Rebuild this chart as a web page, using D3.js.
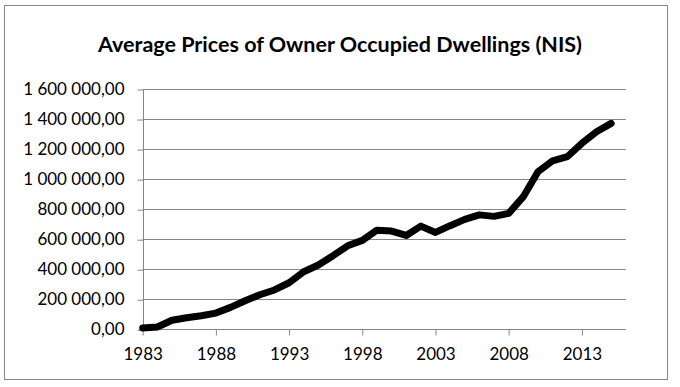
<!DOCTYPE html>
<html>
<head>
<meta charset="utf-8">
<script src="https://cdn.jsdelivr.net/npm/d3@7"></script>
<style>
  body { margin: 0; background: #fff; }
  text { font-family: Lato, "Open Sans", sans-serif; fill: #000; }
</style>
</head>
<body>
<div id="chart"></div>
<script>
// years on the category axis (2016 has no value, axis runs to it)
let years = d3.range(1983, 2017);
// average price per year, NIS
let prices = [
    8000, 15000, 60000, 77000, 90000, 108000, 146000, 190000, 230000, 262000,
    310000, 383000, 428000, 490000, 556000, 592000, 660000, 654000, 625000, 687000,
    645000, 690000, 732000, 762000, 752000, 772000, 883000, 1049000, 1122000, 1149000,
    1238000, 1315000, 1371000, null
];
let yTicks = [0, 200000, 400000, 600000, 800000, 1000000, 1200000, 1400000, 1600000];
let xTickYears = [1983, 1988, 1993, 1998, 2003, 2008, 2013];

let W = 680, H = 387;
let svg = d3.select('#chart').append('svg').attr('width', W).attr('height', H);

// outer frame
svg.append('rect').attr('x', 4.5).attr('y', 5.5).attr('width', 663).attr('height', 374)
    .attr('fill', '#fff').attr('stroke', '#868686').attr('stroke-width', 1);

svg.append('text').attr('x', 340).attr('y', 52).attr('text-anchor', 'middle')
    .attr('font-size', 21.5).attr('font-weight', 'bold')
    .text('Average Prices of Owner Occupied Dwellings (NIS)');

//绘图区
let pLeft = 142.7, pRight = 625.8, pTop = 89, pBottom = 329.3;

let x = d3.scaleLinear().domain([1983, 2016]).range([pLeft, pRight]);
let y = d3.scaleLinear().domain([0, 1600000]).range([pBottom, pTop]);

// number format like "1 600 000,00"
let fmt = function (v) {
    return d3.format(',.2f')(v).replace(/,/g, ' ').replace('.', ',');
};

// gridlines
svg.append('g').selectAll('line').data(yTicks.slice(1)).enter().append('line')
    .attr('x1', pLeft).attr('x2', pRight)
    .attr('y1', d => Math.round(y(d)) + 0.5).attr('y2', d => Math.round(y(d)) + 0.5)
    .attr('stroke', '#868686');

// y axis
let yAxis = d3.axisLeft(y).tickValues(yTicks).tickFormat(fmt).tickSize(6).tickPadding(13);
let gy = svg.append('g').attr('transform', 'translate(' + (Math.round(pLeft) + 0.5) + ',0)').call(yAxis);
gy.select('.domain').attr('stroke', '#868686').attr('d', 'M0,' + Math.round(pTop) + 'V' + Math.round(pBottom));
gy.selectAll('.tick line').attr('stroke', '#868686').attr('transform', 'translate(0,0.5)');
gy.selectAll('.tick text').attr('font-size', 17).attr('font-family', 'Lato, sans-serif').attr('fill', '#000');

// x axis
let xAxis = d3.axisBottom(x).tickValues(xTickYears).tickFormat(d3.format('d')).tickSize(6).tickPadding(12.5);
let gx = svg.append('g').attr('transform', 'translate(0,' + (Math.round(pBottom) + 0.5) + ')').call(xAxis);
gx.select('.domain').attr('stroke', '#868686').attr('d', 'M' + pLeft + ',0H' + pRight);
gx.selectAll('.tick line').attr('stroke', '#868686');
gx.selectAll('.tick text').attr('font-size', 17).attr('font-family', 'Lato, sans-serif').attr('fill', '#000');

// price line
let line = d3.line()
    .defined(d => d[1] != null)
    .x(d => x(d[0]))
    .y(d => y(d[1]));
svg.append('path').datum(years.map((yr, i) => [yr, prices[i]]))
    .attr('d', line)
    .attr('fill', 'none').attr('stroke', '#000').attr('stroke-width', 7)
    .attr('stroke-linejoin', 'round').attr('stroke-linecap', 'round');
</script>
</body>
</html>
